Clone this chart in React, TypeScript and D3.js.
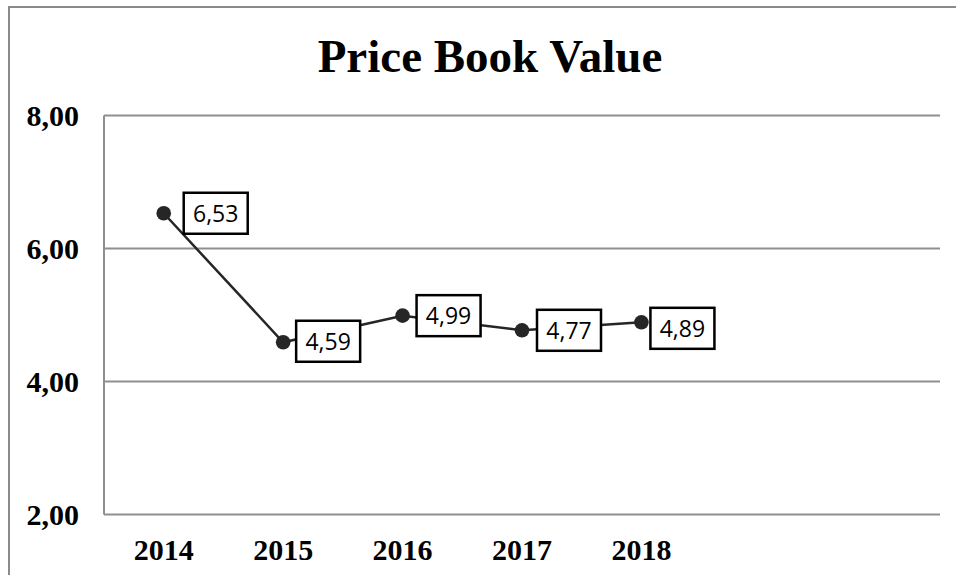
import React from "react";
import * as d3 from "d3";

const categories = ["2014", "2015", "2016", "2017", "2018", "", " "];
const values = [6.53, 4.59, 4.99, 4.77, 4.89];
const valueLabels = ["6,53", "4,59", "4,99", "4,77", "4,89"];
const yTicks = [2, 4, 6, 8];
const yTickLabels = ["2,00", "4,00", "6,00", "8,00"];
const title = "Price Book Value";

// label box layout (manual offsets as in the reference)
const labelDx = [20, 13, 14, 15, 9];
const labelDy = [0, -1, 0, 0, 6];

export default function App() {
  const W = 956, H = 575;
  const left = 104, right = 940, top = 115.5, bottom = 514.5;
  const x = d3.scaleBand<string>().domain(categories).range([left, right]);
  const y = d3.scaleLinear().domain([2, 8]).range([bottom, top]);
  const cx = (i: number) => (x(categories[i]) as number) + x.bandwidth() / 2;
  const line = d3
    .line<number>()
    .x((_, i) => cx(i))
    .y((d) => y(d));
  const serif = "'Liberation Serif', 'Times New Roman', serif";
  const boxW = 64, boxH = 41;
  return (
    <svg
      width={W}
      height={H}
      style={{ position: "absolute", left: 0, top: 0, background: "#fff" }}
    >
      <rect x={9} y={7} width={1200} height={1200} fill="#fff" stroke="#8a8a8a" strokeWidth={2} />
      <text
        x={490}
        y={72}
        textAnchor="middle"
        fontFamily={serif}
        fontWeight="bold"
        fontSize={47}
        fill="#000"
      >
        {title}
      </text>
      {yTicks.map((t, i) => (
        <g key={t}>
          <line x1={left} x2={right} y1={y(t)} y2={y(t)} stroke="#8f8f8f" strokeWidth={2} />
          <text
            x={79}
            y={y(t) + 10.5}
            textAnchor="end"
            fontFamily={serif}
            fontWeight="bold"
            fontSize={30}
            fill="#000"
          >
            {yTickLabels[i]}
          </text>
        </g>
      ))}
      <line x1={left} x2={left} y1={top} y2={bottom} stroke="#8f8f8f" strokeWidth={2} />
      {categories.map((c, i) =>
        c.trim() ? (
          <text
            key={c}
            x={cx(i)}
            y={560}
            textAnchor="middle"
            fontFamily={serif}
            fontWeight="bold"
            fontSize={30}
            fill="#000"
          >
            {c}
          </text>
        ) : null
      )}
      <path d={line(values) || ""} fill="none" stroke="#262626" strokeWidth={2.5} />
      {values.map((v, i) => (
        <circle key={i} cx={cx(i)} cy={y(v)} r={7.3} fill="#262626" />
      ))}
      {values.map((v, i) => {
        const bx = cx(i) + labelDx[i];
        const by = y(v) + labelDy[i] - boxH / 2;
        return (
          <g key={"l" + i}>
            <rect x={bx} y={by} width={boxW} height={boxH} fill="#fff" stroke="#000" strokeWidth={2.5} />
            <text
              x={bx + boxW / 2}
              y={by + boxH / 2 + 8.5}
              textAnchor="middle"
              fontFamily="'Open Sans', sans-serif"
              fontSize={23}
              fill="#000"
            >
              {valueLabels[i]}
            </text>
          </g>
        );
      })}
    </svg>
  );
}
